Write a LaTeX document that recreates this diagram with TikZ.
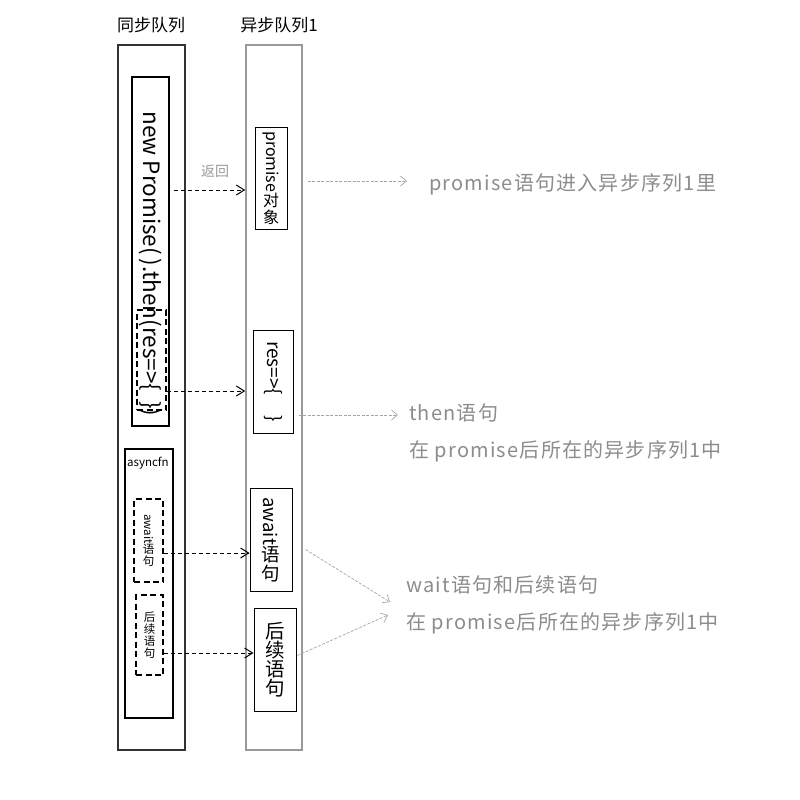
\documentclass[tikz,border=0pt]{standalone}
\usepackage{fontspec}
\usepackage{graphicx}
\setmainfont{Noto Sans CJK SC}
\usetikzlibrary{arrows.meta,calc}
% Latin run set sideways inside a vertical label
\newcommand{\vlat}[1]{\rotatebox[origin=c]{-90}{#1}}
\begin{document}
\begin{tikzpicture}[x=1pt,y=-1pt,
  frame/.style={draw, line width=1.6pt, inner sep=0pt},
  colsync/.style={frame, draw=black!80},
  colasync/.style={frame, draw=black!40},
  codebox/.style={draw, line width=1.8pt, inner sep=0pt},
  slot/.style={draw, line width=1.6pt, dash pattern=on 6pt off 3.5pt, inner sep=0pt, align=center},
  qbox/.style={draw, line width=1pt, inner sep=0pt, align=center},
  flow/.style={line width=1pt, dash pattern=on 4.5pt off 2.5pt, -{Straight Barb[length=8pt,width=10pt]}},
  hint/.style={draw=black!35, line width=0.7pt, dash pattern=on 3pt off 1.5pt, -{Straight Barb[length=6pt,width=10pt]}},
  note/.style={text=black!45, anchor=west, inner sep=0pt, font=\fontsize{20}{22}\selectfont\addfontfeatures{LetterSpace=6}},
  head/.style={font=\fontsize{17}{20}\selectfont, inner sep=0pt},
]
\useasboundingbox (0,0) rectangle (800,800);

% queues
\node[colsync, minimum width=67pt, minimum height=705pt] (syncq) at (151.5,397.5) {};
\node[colasync, minimum width=56pt, minimum height=705pt] (asyncq) at (274,397.5) {};
\node[head] (hsync) at (151,25) {同步队列};
\node[head] (hasync) at (279,25) {异步队列1};

% promise chain in the sync queue
\node[codebox, minimum width=37pt, minimum height=349pt] (chain) at (150.5,251.5) {};
\node[rotate=-90, font=\fontsize{22.5}{24}\selectfont, inner sep=0pt] (chaintext) at (150,264) {new Promise(\,).then(res=>\{\hspace{10pt}\})};
\node[slot, minimum width=29pt, minimum height=100pt] (cb) at (151.5,360) {};

% items in the async queue
\node[qbox, minimum width=32pt, minimum height=102pt, font=\fontsize{16}{17}\selectfont] (pobj) at (271,178) {\vlat{promise}\\对\\象};
\node[qbox, minimum width=40pt, minimum height=103pt, font=\fontsize{19}{20}\selectfont] (thenq) at (273,381.5) {\vlat{res=>\{\hspace{20pt}\}}};

% async function
\node[codebox, minimum width=48pt, minimum height=269pt] (afn) at (149,583.5) {};
\node[anchor=west, inner sep=0pt, font=\fontsize{11.5}{13}\selectfont] (afnlabel) at (127,463) {asyncfn};
\node[slot, minimum width=29pt, minimum height=83pt, font=\fontsize{11.5}{12}\selectfont] (aw) at (148.5,540.5) {\vlat{await}\\语\\句};
\node[slot, minimum width=27pt, minimum height=80pt, font=\fontsize{11.5}{12}\selectfont] (rest) at (149.5,635) {后\\续\\语\\句};
\node[qbox, minimum width=42pt, minimum height=103pt, font=\fontsize{18.5}{19}\selectfont] (awq) at (271,539.5) {\vlat{await}\\语\\句};
\node[qbox, minimum width=42pt, minimum height=103pt, font=\fontsize{19.5}{19}\selectfont] (restq) at (275,659.5) {后\\续\\语\\句};

% row levels of the transfer arrows
\coordinate (y1) at (0,190);
\coordinate (y2) at (0,391);
\coordinate (y3) at (0,553);
\coordinate (y4) at (0,653);

\draw[flow] ($(chain.east |- y1)+(4,0)$) -- (asyncq.west |- y1);
\node[text=black!40, font=\fontsize{14}{16}\selectfont, inner sep=0pt] (ret) at (215,171) {返回};
\draw[flow] (cb.east |- y2) -- (asyncq.west |- y2);
\draw[flow] (aw.east |- y3) -- (awq.west |- y3);
\draw[flow] (rest.east |- y4) -- (restq.west |- y4);

% explanatory notes
\node[note] (note1) at (429,184) {promise语句进入异步序列1里};
\node[note] (note2) at (409,413) {then语句};
\node[note] (note2b) at (409,451) {在 promise后所在的异步序列1中};
\node[note] (note3) at (406,585) {wait语句和后续语句};
\node[note] (note3b) at (406,623) {在 promise后所在的异步序列1中};

\draw[hint] ($(pobj.east)+(20,3)$) -- ($(note1.west)+(-22,-3)$);
\draw[hint] ($(thenq.east)+(5,33.5)$) -- ($(note2.west)+(-11,2)$);
\draw[hint] ($(awq.east)+(13,10)$) -- ($(note3.west)+(-16,17)$);
\draw[hint] ($(restq.east)+(1,-4)$) -- ($(note3.west)+(-18,30)$);
\end{tikzpicture}
\end{document}
